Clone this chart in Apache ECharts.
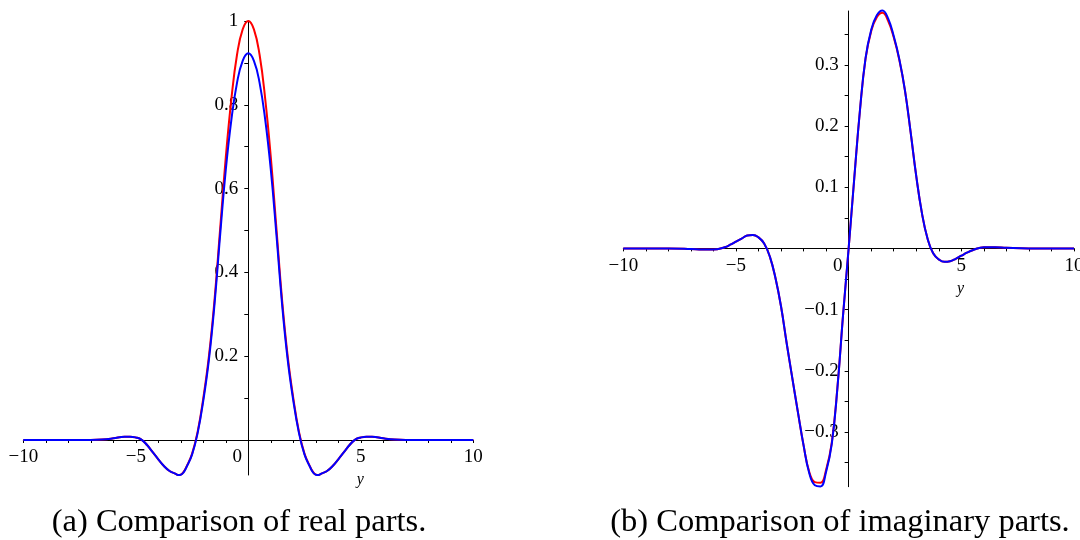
<!DOCTYPE html>
<html>
<head>
<meta charset="utf-8">
<script src="https://cdn.jsdelivr.net/npm/echarts@6/dist/echarts.min.js"></script>
<style>
  html, body { margin: 0; padding: 0; background: #ffffff; }
  #chart { width: 1080px; height: 540px; }
</style>
</head>
<body>
<div id="chart"></div>
<script>
// Sample points along y for the real parts
const yReal = [
  -10, -9, -8, -7, -6.5, -6, -5.5,
  -5.25, -5, -4.75, -4.5, -4.25, -4, -3.75, -3.5, -3.25, -3.125, -3, -2.875, -2.75,
  -2.5, -2.25, -2, -1.75, -1.5, -1.25, -1, -0.75, -0.5, -0.25,
  0,
  0.25, 0.5, 0.75, 1, 1.25, 1.5, 1.75, 2, 2.25, 2.5,
  2.75, 2.875, 3, 3.125, 3.25, 3.5, 3.75, 4, 4.25, 4.5, 4.75, 5, 5.25, 5.5,
  6, 6.5, 7, 8, 9, 10
];

// Real part, red curve
const realRed = [
  0, 0, 0, 0, 0.001, 0.004, 0.008,
  0.008, 0.006, 0.001, -0.012, -0.029, -0.046, -0.062, -0.074, -0.080, -0.0833, -0.0825, -0.076, -0.064,
  -0.033, 0.020, 0.100, 0.200, 0.335, 0.505, 0.675, 0.815, 0.920, 0.980,
  1.000,
  0.980, 0.920, 0.815, 0.675, 0.505, 0.335, 0.200, 0.100, 0.020, -0.033,
  -0.064, -0.076, -0.0825, -0.0833, -0.080, -0.074, -0.062, -0.046, -0.029, -0.012, 0.001, 0.006, 0.008, 0.008,
  0.004, 0.001, 0, 0, 0, 0
];

// Real part, blue curve
const realBlue = [
  0, 0, 0, 0, 0.001, 0.004, 0.008,
  0.008, 0.006, 0.001, -0.012, -0.029, -0.046, -0.062, -0.074, -0.080, -0.0835, -0.0828, -0.077, -0.065,
  -0.035, 0.017, 0.094, 0.192, 0.325, 0.490, 0.645, 0.765, 0.853, 0.905,
  0.923,
  0.905, 0.853, 0.765, 0.645, 0.490, 0.325, 0.192, 0.094, 0.017, -0.035,
  -0.065, -0.077, -0.0828, -0.0835, -0.080, -0.074, -0.062, -0.046, -0.029, -0.012, 0.001, 0.006, 0.008, 0.008,
  0.004, 0.001, 0, 0, 0, 0
];

// Sample points along y for the imaginary parts
const yImag = [
  -10, -9, -8, -7, -6.5, -6, -5.5,
  -5.25, -5, -4.75, -4.5, -4.25, -4, -3.75, -3.5, -3.25, -3, -2.75,
  -2.5, -2.25, -2, -1.75, -1.5, -1.25, -1, -0.75, -0.5, -0.25,
  0,
  0.25, 0.5, 0.75, 1, 1.25, 1.5, 1.75, 2, 2.25, 2.5,
  2.75, 3, 3.25, 3.5, 3.75, 4, 4.25, 4.5, 4.75, 5, 5.25, 5.5,
  6, 6.5, 7, 8, 9, 10
];

// Imaginary part, red curve
const imagRed = [
  0, 0, 0, -0.001, -0.002, -0.002, 0.002,
  0.006, 0.011, 0.016, 0.021, 0.022, 0.018, 0.008, -0.013, -0.048, -0.095, -0.155,
  -0.212, -0.268, -0.322, -0.365, -0.382, -0.383, -0.362, -0.318, -0.228, -0.110,
  0,
  0.115, 0.225, 0.310, 0.355, 0.378, 0.385, 0.372, 0.345, 0.308, 0.258,
  0.190, 0.118, 0.058, 0.016, -0.008, -0.018, -0.022, -0.021, -0.017, -0.012, -0.007, -0.003,
  0.002, 0.002, 0.001, 0, 0, 0
];

// Imaginary part, blue curve
const imagBlue = [
  0, 0, 0, -0.001, -0.002, -0.002, 0.002,
  0.006, 0.011, 0.016, 0.021, 0.022, 0.018, 0.008, -0.013, -0.048, -0.095, -0.155,
  -0.212, -0.268, -0.322, -0.367, -0.387, -0.389, -0.365, -0.320, -0.229, -0.110,
  0,
  0.115, 0.225, 0.311, 0.357, 0.381, 0.389, 0.376, 0.347, 0.309, 0.258,
  0.190, 0.118, 0.058, 0.016, -0.008, -0.018, -0.022, -0.021, -0.017, -0.012, -0.007, -0.003,
  0.002, 0.002, 0.001, 0, 0, 0
];

// Axis ranges, ticks and labels
const yRange = [-10, 10];
const yTicks = [-10, -9, -8, -7, -6, -5, -4, -3, -2, -1, 0, 1, 2, 3, 4, 5, 6, 7, 8, 9, 10];
const yLabels = [-10, -5, 0, 5, 10];

const realRange = [-0.0835, 1];
const realTicks = [0.1, 0.2, 0.3, 0.4, 0.5, 0.6, 0.7, 0.8, 0.9, 1];
const realLabels = [0.2, 0.4, 0.6, 0.8, 1];

const imagRange = [-0.3895, 0.388];
const imagTicks = [-0.35, -0.3, -0.25, -0.2, -0.15, -0.1, -0.05, 0.05, 0.1, 0.15, 0.2, 0.25, 0.3, 0.35];
const imagLabels = [-0.3, -0.2, -0.1, 0.1, 0.2, 0.3];

const captions = ['(a) Comparison of real parts.', '(b) Comparison of imaginary parts.'];

const SERIF = '"Liberation Serif", "Times New Roman", serif';
const INK = '#000000';
const W = 1080, H = 540;
const TICK_FONT = 19;

// Plot boxes
const boxes = [
  { left: 23.3, right: 606.7, top: 21, bottom: 65 },
  { left: 623.3, right: 6, top: 11, bottom: 53.3 }
];

function fmt(v) {
  return v < 0 ? '\u2212' + Math.abs(v) : String(v);
}

function pairs(xs, ys) {
  return xs.map((x, i) => [x, ys[i]]);
}

// Distance (px) from the box edge to where the other axis is zero,
// so that both axes cross at the origin.
function zeroShift(range, span) {
  return (0 - range[0]) / (range[1] - range[0]) * span;
}

function xAxisFor(gi, vRange) {
  const b = boxes[gi];
  const h = H - b.top - b.bottom;
  return {
    type: 'value',
    gridIndex: gi,
    position: 'bottom',
    offset: -zeroShift(vRange, h),
    min: yRange[0],
    max: yRange[1],
    axisLine: { show: true, onZero: false, lineStyle: { color: INK, width: 1 } },
    axisTick: { show: true, inside: false, length: 3, customValues: yTicks, lineStyle: { color: INK, width: 1 } },
    splitLine: { show: false },
    axisLabel: {
      customValues: yLabels,
      margin: 8,
      color: INK,
      fontFamily: SERIF,
      fontSize: TICK_FONT,
      formatter: v => (v === 0 ? '{z|0}' : fmt(v)),
      rich: { z: { padding: [0, 22, 0, 0], fontFamily: SERIF, fontSize: TICK_FONT, color: INK } }
    },
    name: 'y',
    nameLocation: 'middle',
    nameGap: 32,
    nameTextStyle: { fontFamily: SERIF, fontStyle: 'italic', fontSize: 16, color: INK, padding: [0, 0, 0, 224] }
  };
}

function yAxisFor(gi, range, ticks, labels) {
  const b = boxes[gi];
  const w = W - b.left - b.right;
  return {
    type: 'value',
    gridIndex: gi,
    position: 'left',
    offset: -zeroShift(yRange, w),
    min: range[0],
    max: range[1],
    axisLine: { show: true, onZero: false, lineStyle: { color: INK, width: 1 } },
    axisTick: { show: true, inside: false, length: 4, customValues: ticks, lineStyle: { color: INK, width: 1 } },
    splitLine: { show: false },
    axisLabel: {
      customValues: labels,
      margin: 10,
      color: INK,
      fontFamily: SERIF,
      fontSize: TICK_FONT,
      formatter: v => fmt(v)
    }
  };
}

function curve(gi, data, color) {
  return {
    type: 'line',
    xAxisIndex: gi,
    yAxisIndex: gi,
    data,
    showSymbol: false,
    smooth: 0.45,
    clip: false,
    lineStyle: { color, width: 2 },
    itemStyle: { color },
    animation: false
  };
}

const chart = echarts.init(document.getElementById('chart'), null, { renderer: 'canvas' });

chart.setOption({
  backgroundColor: '#ffffff',
  animation: false,
  grid: boxes.map(b => Object.assign({ containLabel: false, outerBoundsMode: 'none' }, b)),
  xAxis: [xAxisFor(0, realRange), xAxisFor(1, imagRange)],
  yAxis: [
    yAxisFor(0, realRange, realTicks, realLabels),
    yAxisFor(1, imagRange, imagTicks, imagLabels)
  ],
  series: [
    curve(0, pairs(yReal, realRed), '#ff0000'),
    curve(0, pairs(yReal, realBlue), '#0000ff'),
    curve(1, pairs(yImag, imagRed), '#ff0000'),
    curve(1, pairs(yImag, imagBlue), '#0000ff')
  ],
  graphic: [
    {
      type: 'text', x: 239, y: 522,
      style: { text: captions[0], align: 'center', verticalAlign: 'middle', fontFamily: SERIF, fontSize: 32.5, fill: INK }
    },
    {
      type: 'text', x: 840, y: 522,
      style: { text: captions[1], align: 'center', verticalAlign: 'middle', fontFamily: SERIF, fontSize: 32.5, fill: INK }
    }
  ]
});
</script>
</body>
</html>
